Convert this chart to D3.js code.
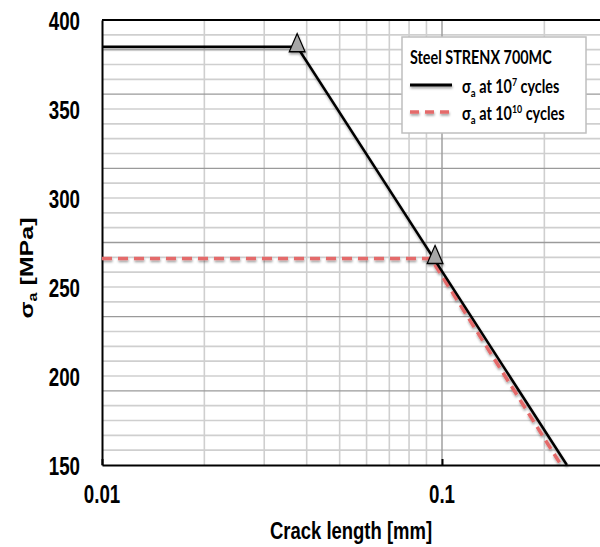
<!DOCTYPE html>
<html>
<head>
<meta charset="utf-8">
<script src="https://cdn.jsdelivr.net/npm/d3@7"></script>
<style>
  body { margin: 0; background: #fff; }
  svg { display: block; }
  .axis-txt { font-family: "Liberation Sans", Arial, sans-serif; font-weight: bold; fill: #000; }
  .leg-txt { font-family: Lato, "Open Sans", sans-serif; font-weight: bold; fill: #000; }
</style>
</head>
<body>
<div id="chart"></div>
<script>
// Crack length vs fatigue limit (log x, linear y)

// Series at 10^7 cycles
var crack7 = [0.01, 0.0375, 0.233];
var sigma7 = [385, 385, 150];

// Series at 10^10 cycles
var crack10 = [0.01, 0.0928, 0.224];
var sigma10 = [266, 266, 150];

// Triangle markers (knee points)
var markX = [0.0375, 0.0954];
var markY = [385, 266];

// Tick labels
var xTicks = [0.01, 0.1];
var yTicks = [150, 200, 250, 300, 350, 400];

var width = 600;
var height = 547;

// Plot box
var plotLeft = 102;
var plotTop = 20;
var plotBottom = 465;

// Image is squeezed horizontally
var squeeze = 0.75;

var svg = d3.select("#chart")
  .append("svg")
  .attr("width", width)
  .attr("height", height);

// Drop shadow like Excel line effect (user space so flat lines keep it)
var defs = svg.append("defs");
defs.append("filter")
  .attr("id", "shadow")
  .attr("filterUnits", "userSpaceOnUse")
  .attr("x", 0).attr("y", 0)
  .attr("width", width).attr("height", height)
  .append("feDropShadow")
  .attr("dx", 0.5)
  .attr("dy", 2)
  .attr("stdDeviation", 1.2)
  .attr("flood-color", "#000")
  .attr("flood-opacity", 0.35);

var xScale = d3.scaleLog()
  .domain([0.01, 0.3])
  .range([plotLeft, plotLeft + 340 * Math.log10(30)]);

var yScale = d3.scaleLinear()
  .domain([150, 400])
  .range([plotBottom, plotTop]);

// Horizontal gridlines: 6 major divisions, 5 minor each
var gridScale = d3.scaleLinear().domain([0, 30]).range([plotBottom, plotTop]);
var gridIdx = d3.range(0, 31);

var plotRight = xScale(0.3);

var grid = svg.append("g").attr("class", "grid");

grid.selectAll(".hminor")
  .data(gridIdx.filter(function(d) { return d % 5 !== 0; }))
  .enter()
  .append("line")
  .attr("x1", plotLeft).attr("x2", plotRight)
  .attr("y1", function(d) { return gridScale(d); })
  .attr("y2", function(d) { return gridScale(d); })
  .attr("stroke", "#cfcfcf")
  .attr("stroke-width", 1.6);

// Vertical gridlines for log axis
var vMinor = [];
[0.01, 0.1].forEach(function(dec) {
  for (var k = 2; k <= 9; k++) vMinor.push(dec * k);
});
vMinor = vMinor.filter(function(v) { return v <= 0.3; });

grid.selectAll(".vminor")
  .data(vMinor)
  .enter()
  .append("line")
  .attr("x1", function(d) { return xScale(d); })
  .attr("x2", function(d) { return xScale(d); })
  .attr("y1", plotTop).attr("y2", plotBottom)
  .attr("stroke", "#cfcfcf")
  .attr("stroke-width", 1.6);

grid.selectAll(".hmajor")
  .data(gridIdx.filter(function(d) { return d % 5 === 0 && d > 0 && d < 30; }))
  .enter()
  .append("line")
  .attr("x1", plotLeft).attr("x2", plotRight)
  .attr("y1", function(d) { return gridScale(d); })
  .attr("y2", function(d) { return gridScale(d); })
  .attr("stroke", "#9a9a9a")
  .attr("stroke-width", 1.4);

grid.append("line")
  .attr("x1", xScale(0.1)).attr("x2", xScale(0.1))
  .attr("y1", plotTop).attr("y2", plotBottom)
  .attr("stroke", "#9a9a9a")
  .attr("stroke-width", 1.4);

// Top border
svg.append("line")
  .attr("x1", plotLeft).attr("x2", plotRight)
  .attr("y1", plotTop).attr("y2", plotTop)
  .attr("stroke", "#000")
  .attr("stroke-width", 2);

// Axes
var xAxis = d3.axisBottom(xScale)
  .tickValues(xTicks)
  .tickSizeInner(-6)
  .tickSizeOuter(0)
  .tickFormat("");

svg.append("g")
  .attr("class", "xAxis")
  .attr("transform", "translate(0," + plotBottom + ")")
  .call(xAxis)
  .call(function(g) {
    g.select(".domain").attr("stroke", "#000").attr("stroke-width", 2);
    g.selectAll(".tick line").attr("stroke", "#000").attr("stroke-width", 2);
  });

var yAxis = d3.axisLeft(yScale)
  .tickValues(yTicks)
  .tickSize(0)
  .tickFormat(d3.format("d"));

svg.append("g")
  .attr("class", "yAxis")
  .attr("transform", "translate(" + plotLeft + ",0)")
  .call(yAxis)
  .call(function(g) {
    g.select(".domain").attr("stroke", "#000").attr("stroke-width", 2);
    g.selectAll("text")
      .attr("class", "axis-txt")
      .attr("font-size", 25)
      .attr("x", -22 / squeeze)
      .attr("dy", "0.36em")
      .attr("transform", "scale(" + squeeze + ",1)");
  });

// x tick labels
svg.append("g")
  .selectAll("text")
  .data(xTicks)
  .enter()
  .append("text")
  .attr("class", "axis-txt")
  .attr("font-size", 25)
  .attr("text-anchor", "middle")
  .attr("transform", function(d) {
    return "translate(" + xScale(d) + ",503) scale(" + squeeze + ",1)";
  })
  .text(function(d) { return d; });

// Axis titles
svg.append("text")
  .attr("class", "axis-txt")
  .attr("font-size", 24)
  .attr("text-anchor", "middle")
  .attr("transform", "translate(351,539) scale(0.77,1)")
  .text("Crack length [mm]");

var yTitle = svg.append("text")
  .attr("class", "axis-txt")
  .attr("font-size", 25)
  .attr("text-anchor", "middle")
  .attr("transform", "translate(33,268) rotate(-90) scale(1," + squeeze + ")");
yTitle.append("tspan").text("σ");
yTitle.append("tspan").attr("font-size", 16).attr("dy", 5).text("a");
yTitle.append("tspan").attr("dy", -5).text(" [MPa]");

// Series lines
var line = d3.line()
  .x(function(d) { return xScale(d[0]); })
  .y(function(d) { return yScale(d[1]); });

var series7 = d3.zip(crack7, sigma7);
var series10 = d3.zip(crack10, sigma10);

var plot = svg.append("g").attr("filter", "url(#shadow)");

plot.append("path")
  .datum(series10)
  .attr("d", line)
  .attr("fill", "none")
  .attr("stroke", "#e46a6a")
  .attr("stroke-width", 3.5)
  .attr("stroke-dasharray", "10,6");

plot.append("path")
  .datum(series7)
  .attr("d", line)
  .attr("fill", "none")
  .attr("stroke", "#000")
  .attr("stroke-width", 2.5);

// Triangle markers
var tri = d3.symbol().type(d3.symbolTriangle).size(190);
plot.selectAll(".mark")
  .data(d3.zip(markX, markY))
  .enter()
  .append("path")
  .attr("d", tri)
  .attr("transform", function(d) {
    return "translate(" + xScale(d[0]) + "," + (yScale(d[1]) - 1) + ") scale(" + squeeze + ",1)";
  })
  .attr("fill", "#a6a6a6")
  .attr("stroke", "#000")
  .attr("stroke-width", 1.5);

// Legend
var legend = svg.append("g").attr("class", "legend");

legend.append("rect")
  .attr("x", 402).attr("y", 37)
  .attr("width", 184).attr("height", 96)
  .attr("fill", "#fff")
  .attr("stroke", "#bfbfbf")
  .attr("stroke-width", 1.5);

legend.append("text")
  .attr("class", "leg-txt")
  .attr("font-size", 18)
  .attr("transform", "translate(410,64) scale(0.8,1)")
  .text("Steel STRENX 700MC");

var legItems = [
  { exp: "7", color: "#000", dash: null, w: 3 },
  { exp: "10", color: "#e46a6a", dash: "9,6", w: 3.5 }
];

legItems.forEach(function(item, i) {
  var ly = 85 + i * 27;
  legend.append("line")
    .attr("x1", 410).attr("x2", 452)
    .attr("y1", ly).attr("y2", ly)
    .attr("stroke", item.color)
    .attr("stroke-width", item.w)
    .attr("stroke-dasharray", item.dash)
    .attr("filter", "url(#shadow)");

  var t = legend.append("text")
    .attr("class", "leg-txt")
    .attr("font-size", 18)
    .attr("transform", "translate(462," + (ly + 8) + ") scale(0.8,1)");
  t.append("tspan").text("σ");
  t.append("tspan").attr("font-size", 12).attr("dy", 4).text("a");
  t.append("tspan").attr("dy", -4).text(" at 10");
  t.append("tspan").attr("font-size", 11).attr("dy", -7).text(item.exp);
  t.append("tspan").attr("dy", 7).text(" cycles");
});
</script>
</body>
</html>
